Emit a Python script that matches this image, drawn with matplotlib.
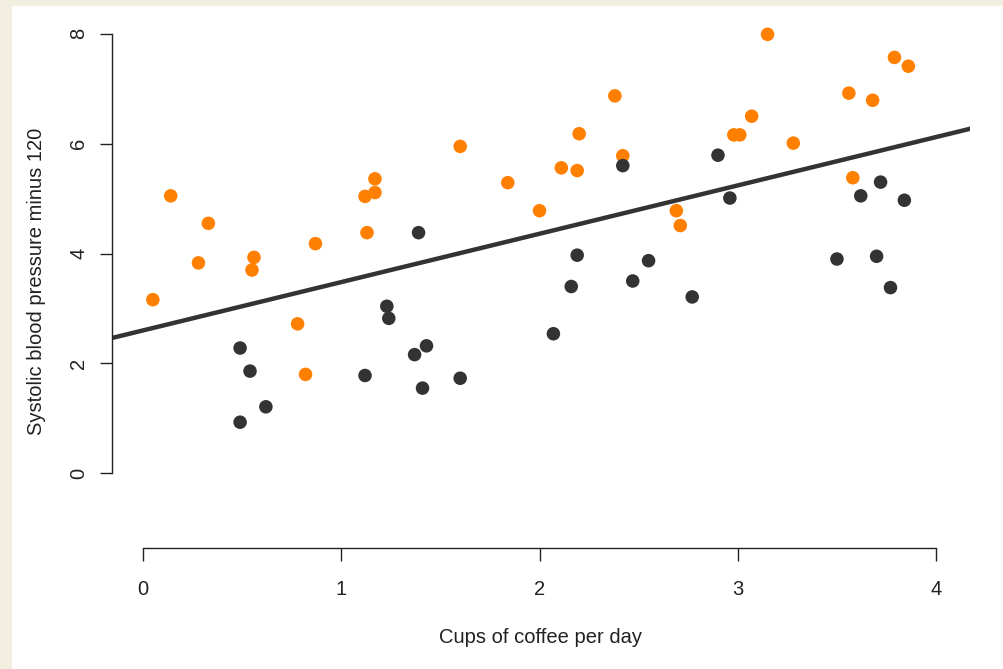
import matplotlib.pyplot as plt
from matplotlib.patches import Rectangle

plt.rcParams["font.family"] = ["Liberation Sans", "DejaVu Sans"]

# orange group and dark group
orange_x = [0.05, 0.14, 0.28, 0.33, 0.55, 0.56, 0.78, 0.82, 0.87, 1.12, 1.13,
            1.17, 1.17, 1.60, 1.84, 2.00, 2.11, 2.19, 2.20, 2.38, 2.42, 2.69,
            2.71, 2.98, 3.01, 3.07, 3.15, 3.28, 3.56, 3.58, 3.68, 3.79, 3.86]
orange_y = [3.16, 5.05, 3.83, 4.55, 3.70, 3.93, 2.72, 1.80, 4.18, 5.04, 4.38,
            5.11, 5.36, 5.95, 5.29, 4.78, 5.56, 5.51, 6.18, 6.87, 5.78, 4.78,
            4.51, 6.16, 6.16, 6.50, 7.99, 6.01, 6.92, 5.38, 6.79, 7.57, 7.41]

dark_x = [0.49, 0.54, 0.62, 0.49, 1.12, 1.23, 1.24, 1.37, 1.39, 1.41, 1.43,
          1.60, 2.07, 2.16, 2.19, 2.42, 2.47, 2.55, 2.77, 2.90, 2.96, 3.50,
          3.62, 3.70, 3.72, 3.77, 3.84]
dark_y = [2.28, 1.86, 1.21, 0.93, 1.78, 3.04, 2.82, 2.16, 4.38, 1.55, 2.32,
          1.73, 2.54, 3.40, 3.97, 5.60, 3.50, 3.87, 3.21, 5.79, 5.01, 3.90,
          5.05, 3.95, 5.30, 3.38, 4.97]

# fitted line (both groups pooled)
INTERCEPT = 2.60
SLOPE = 0.88

ORANGE = "#ff7f00"
DARK = "#333333"
FS = 14.5

fig = plt.figure(figsize=(10.04, 6.69), dpi=100, facecolor="#f3efe0")
fig.patches.append(Rectangle((12 / 1004, 0), 1, 1 - 6 / 669, transform=fig.transFigure,
                             facecolor="white", edgecolor="none", zorder=-10))

ax = fig.add_axes([112 / 1004, 1 - 548 / 669, (970 - 112) / 1004, (548 - 14) / 669])
ax.set_facecolor("none")

ax.scatter(orange_x, orange_y, s=95, color=ORANGE, edgecolors="none", zorder=3)
ax.scatter(dark_x, dark_y, s=95, color=DARK, edgecolors="none", zorder=3)
ax.axline((0, INTERCEPT), slope=SLOPE, color=DARK, lw=3.2, zorder=2)

ax.set_xlim(-0.156, 4.171)
ax.set_ylim(-1.36, 8.36)

for side in ["top", "right"]:
    ax.spines[side].set_visible(False)
ax.spines["left"].set_bounds(0, 8)
ax.spines["bottom"].set_bounds(0, 4)
for side in ["left", "bottom"]:
    ax.spines[side].set_linewidth(1.0)
    ax.spines[side].set_color("#222222")

ax.set_xticks([0, 1, 2, 3, 4])
ax.set_yticks([0, 2, 4, 6, 8])
ax.tick_params(axis="both", direction="out", length=9, width=1.0, color="#222222",
               labelsize=FS, labelcolor="#222222")
ax.tick_params(axis="x", pad=14)
ax.tick_params(axis="y", pad=8)
for lab in ax.get_yticklabels():
    lab.set_rotation(90)
    lab.set_va("center")

ax.set_xlabel("Cups of coffee per day", fontsize=FS, color="#222222", labelpad=21)
ax.set_ylabel("Systolic blood pressure minus 120", fontsize=FS, color="#222222", labelpad=17)

fig.savefig("out.png", dpi=100, facecolor=fig.get_facecolor())
